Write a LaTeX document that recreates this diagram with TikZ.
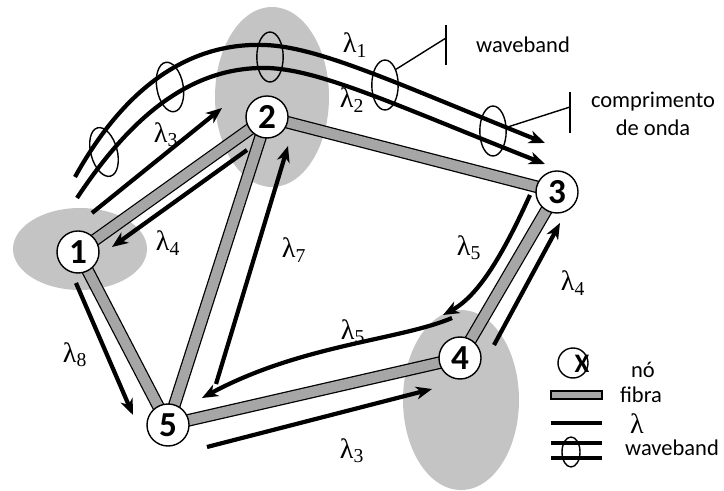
\documentclass[tikz,border=0pt]{standalone}
\usepackage{fontspec}
\setmainfont{Carlito}
\newfontfamily\lamfont{Liberation Serif}
\usetikzlibrary{arrows.meta,shapes.geometric}
\definecolor{areaGray}{HTML}{C4C4C4}
\definecolor{fibGray}{HTML}{A6A6A6}
\tikzset{
  netnode/.style={
    circle,
    draw=black,
    line width=1pt,
    fill=white,
    minimum size=1.05cm,
    inner sep=0pt,
    font=\fontsize{25}{27}\selectfont\bfseries
  },
  area/.style={fill=areaGray, draw=none},
  fiber/.style={draw=black, line width=0.9pt, double=fibGray, double distance=7.2pt},
  lam/.style={line width=3pt, draw=black},
  lamarrow/.style={lam, -{Stealth[length=4mm,width=3.2mm,inset=1.2mm]}},
  bandloop/.style={ellipse, draw=black, line width=1pt, inner sep=0pt, minimum width=0.66cm, minimum height=1.25cm},
  lamlabel/.style={font=\fontsize{20}{22}\selectfont\lamfont, inner sep=0pt},
  txt/.style={font=\fontsize{16}{19.5}\selectfont, align=center, inner sep=0pt}
}
\newcommand{\lamsub}[1]{λ\textsubscript{#1}}

\begin{document}
\begin{tikzpicture}[x=0.025cm, y=-0.025cm]
  \useasboundingbox (0,0) rectangle (724,491);

  \fill[area] (272,97) ellipse [x radius=57, y radius=90];
  \fill[area] (80,249) ellipse [x radius=67, y radius=41];
  \fill[area] (461,400) ellipse [x radius=58, y radius=90];

  \coordinate (p1) at (78,252);
  \coordinate (p2) at (267,117);
  \coordinate (p3) at (557,192);
  \coordinate (p4) at (460,358);
  \coordinate (p5) at (168,425);

  \draw[fiber] (p1) -- (p2);
  \draw[fiber] (p2) -- (p3);
  \draw[fiber] (p3) -- (p4);
  \draw[fiber] (p4) -- (p5);
  \draw[fiber] (p5) -- (p1);
  \draw[fiber] (p5) -- (p2);

  \node[netnode] (n1) at (p1) {1};
  \node[netnode] (n2) at (p2) {2};
  \node[netnode] (n3) at (p3) {3};
  \node[netnode] (n4) at (p4) {4};
  \node[netnode] (n5) at (p5) {5};

  \coordinate (l1a) at (75,177);
  \coordinate (l1b) at (545,143);
  \coordinate (l2a) at (77,198);
  \coordinate (l2b) at (545,164);
  \coordinate (l3a) at (92,213);
  \coordinate (l3b) at (222,108);
  \coordinate (l4a) at (247,150);
  \coordinate (l4b) at (112,247);
  \coordinate (l7a) at (216,384);
  \coordinate (l7b) at (288,146);
  \coordinate (l8a) at (76,283);
  \coordinate (l8b) at (133,415);
  \coordinate (m3a) at (207,447);
  \coordinate (m3b) at (432,389);
  \coordinate (m4a) at (494,345);
  \coordinate (m4b) at (560,223);
  \coordinate (l5a) at (530,195);
  \coordinate (l5b) at (443,315);
  \coordinate (m5a) at (452,318);
  \coordinate (m5b) at (202,398);

  \draw[lamarrow] (l1a) .. controls (122,92) and (185,42) .. (265,45)
    .. controls (320,47) and (400,85) .. (l1b);
  \draw[lamarrow] (l2a) .. controls (130,118) and (190,66) .. (268,68)
    .. controls (322,70) and (400,107) .. (l2b);
  \draw[lamarrow] (l3a) -- (l3b);
  \draw[lamarrow] (l4a) -- (l4b);
  \draw[lamarrow] (l7a) -- (l7b);
  \draw[lamarrow] (l8a) -- (l8b);
  \draw[lamarrow] (m3a) -- (m3b);
  \draw[lamarrow] (m4a) -- (m4b);
  \draw[lamarrow] (l5a) .. controls (505,250) and (480,295) .. (l5b);
  \draw[lamarrow] (m5a) .. controls (400,340) and (300,345) .. (m5b);

  \node[bandloop, rotate=15] (wb1) at (104,152) {};
  \node[bandloop, rotate=10] (wb2) at (170,87) {};
  \node[bandloop] (wb3) at (270,57) {};
  \node[bandloop] (wbA) at (385,85) {};
  \node[bandloop] (wbB) at (493,131) {};

  \node[lamlabel] (t1) at (355,45) {\lamsub{1}};
  \node[lamlabel] (t2) at (352,100) {\lamsub{2}};
  \node[lamlabel] (t3) at (166,135) {\lamsub{3}};
  \node[lamlabel] (t4) at (168,243) {\lamsub{4}};
  \node[lamlabel] (t7) at (294,250) {\lamsub{7}};
  \node[lamlabel] (t8) at (75,355) {\lamsub{8}};
  \node[lamlabel] (t5) at (469,248) {\lamsub{5}};
  \node[lamlabel] (u5) at (353,332) {\lamsub{5}};
  \node[lamlabel] (u4) at (573,283) {\lamsub{4}};
  \node[lamlabel] (u3) at (352,451) {\lamsub{3}};

  \coordinate (wbtip) at (446,38);
  \coordinate (cotip) at (570,107);
  \draw[line width=1pt] (wbA.55) -- (wbtip);
  \draw[line width=1pt] (446,25) -- (446,65);
  \draw[line width=1pt] (wbB.15) -- (cotip);
  \draw[line width=1pt] (570,92) -- (570,133);
  \node[txt] (wbtext) at (523,45) {waveband};
  \node[txt] (cotext) at (653,114) {comprimento\\de onda};

  \node[circle, draw=black, line width=1pt, minimum size=0.75cm, inner sep=0pt] (legnode) at (573,363) {};
  \node[font=\fontsize{19}{21}\selectfont\bfseries, inner sep=0pt] (legx) at (582,364) {X};
  \node[txt] (legno) at (643,370) {nó};
  \draw[fill=fibGray, line width=1pt] (551,391) rectangle (602,399);
  \node[txt] (legfib) at (641,395) {fibra};
  \draw[lam] (551,423) -- (602,423);
  \node[lamlabel] (leglam) at (637,424) {λ};
  \draw[lam] (551,443) -- (602,443);
  \draw[lam] (551,458) -- (602,458);
  \draw[line width=1pt] (571,452) ellipse [x radius=9, y radius=15];
  \node[txt] (legwb) at (672,448) {waveband};
\end{tikzpicture}
\end{document}
